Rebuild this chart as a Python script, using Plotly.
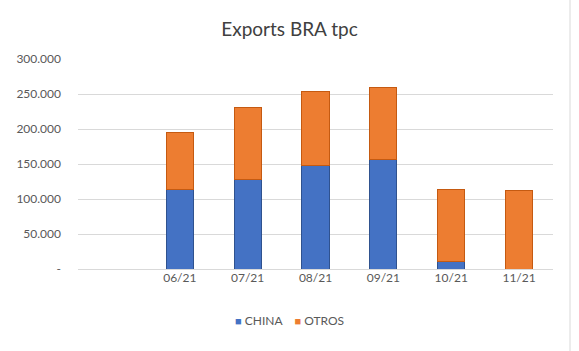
import plotly.graph_objects as go

categories = [" ", "06/21", "07/21", "08/21", "09/21", "10/21", "11/21"]
china = [None, 114000, 128000, 148000, 156500, 11000, 0]
otros = [None, 80600, 103000, 105000, 103500, 103000, 112000]
ytick_vals = [0, 50000, 100000, 150000, 200000, 250000, 300000]
ytick_text = ["-", "50.000", "100.000", "150.000", "200.000", "250.000", "300.000"]
series_names = ["CHINA", "OTROS"]
series_colors = ["#4472C4", "#ED7D31"]
series_lines = ["#2F528F", "#C55A11"]

font_family = "Lato, 'Open Sans', sans-serif"

fig = go.Figure()
for name, vals, col, lc in zip(series_names, [china, otros], series_colors, series_lines):
    fig.add_trace(go.Bar(
        x=categories, y=vals, name=name,
        marker=dict(color=col, line=dict(color=lc, width=1)),
        width=0.4, showlegend=False,
    ))

legend_text = "&nbsp;&nbsp;&nbsp;&nbsp;".join(
    f"<span style='color:{c};font-size:11px'>■</span> {n}" for n, c in zip(series_names, series_colors)
)

fig.update_layout(
    barmode="stack",
    width=579, height=351,
    margin=dict(l=78, r=26, t=59, b=82),
    paper_bgcolor="white", plot_bgcolor="white",
    font=dict(family=font_family, size=12, color="#595959"),
    title=dict(text="Exports BRA tpc", x=0.5, xanchor="center", y=0.915, yanchor="middle",
               font=dict(family=font_family, size=19, color="#404040")),
    xaxis=dict(type="category", categoryorder="array", categoryarray=categories,
               showgrid=False, showline=False, ticks="", tickfont=dict(size=12)),
    yaxis=dict(range=[0, 300000], tickvals=ytick_vals, ticktext=ytick_text,
               showgrid=True, gridcolor="#D9D9D9", gridwidth=1,
               zeroline=True, zerolinecolor="#D9D9D9", zerolinewidth=1,
               showline=False, ticks="", ticklabelstandoff=16, tickfont=dict(size=12)),
    annotations=[dict(text=legend_text, xref="paper", yref="paper",
                      x=(289 - 78) / 475, xanchor="center", y=-51 / 210, yanchor="middle",
                      showarrow=False, font=dict(size=12, color="#595959"))],
    shapes=[dict(type="line", xref="paper", yref="paper",
                 x0=(570 - 78) / 475, x1=(570 - 78) / 475,
                 y0=-82 / 210, y1=(351 - 59) / 210,
                 line=dict(color="#D9D9D9", width=1))],
)

fig.write_html("out.html")
